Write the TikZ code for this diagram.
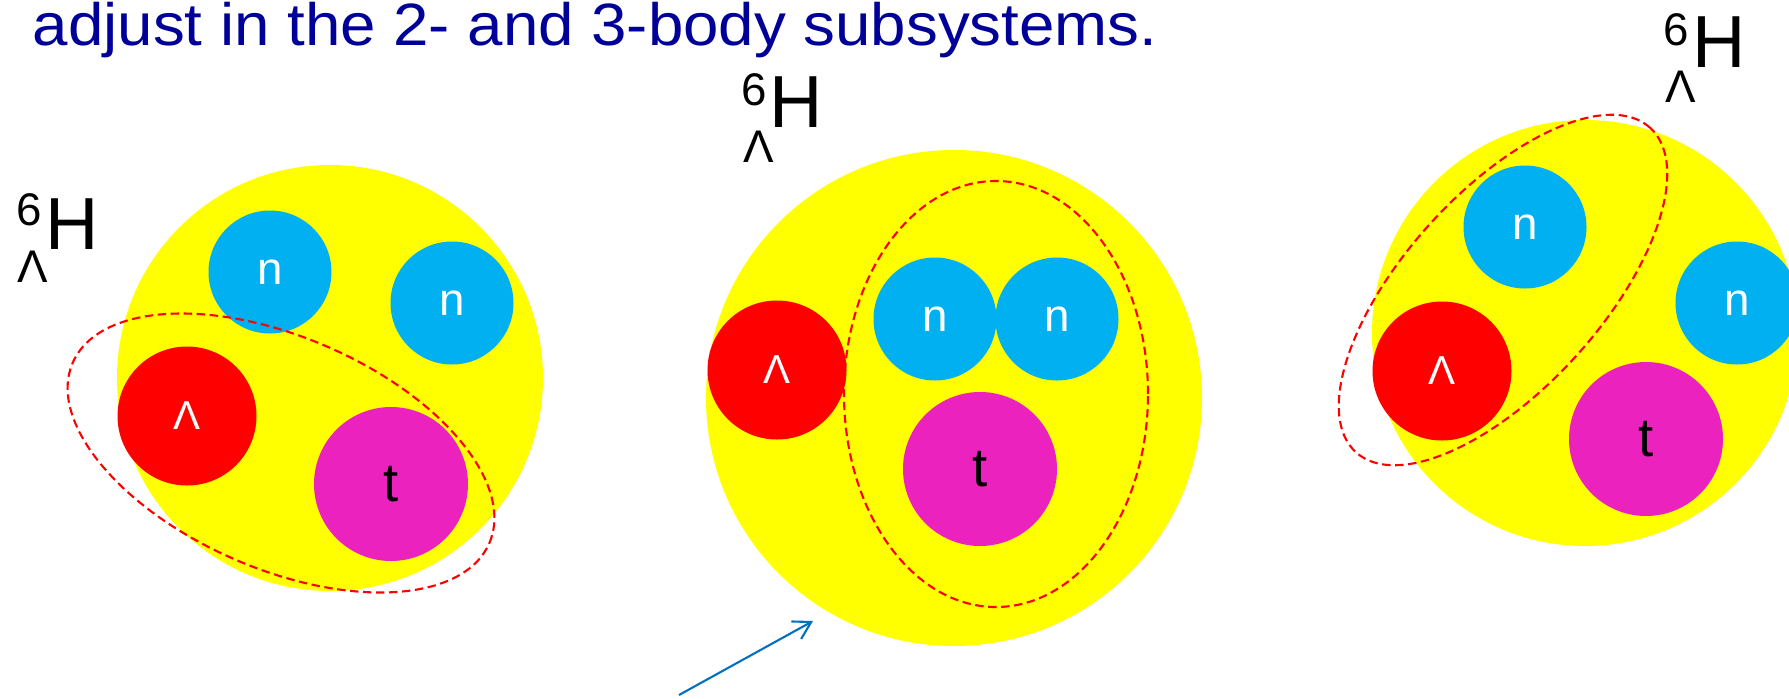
\documentclass[tikz,border=0pt]{standalone}
\usepackage{fontspec}
\setmainfont{Liberation Sans}
\usepackage{xcolor}
\usetikzlibrary{shapes.geometric,arrows.meta}
\definecolor{coreyellow}{RGB}{255,255,0}
\definecolor{neutronblue}{RGB}{0,176,240}
\definecolor{tritonpink}{RGB}{236,34,190}
\definecolor{titleblue}{RGB}{0,0,153}
\definecolor{arrowblue}{RGB}{0,112,192}

\begin{document}
\begin{tikzpicture}[
    core/.style={
        circle,
        fill=coreyellow,
        inner sep=0pt,
        minimum size=4.26cm
    },
    neutron/.style={
        circle,
        fill=neutronblue,
        inner sep=0pt,
        minimum size=1.23cm,
        text=white,
        font=\fontsize{13}{13}\selectfont
    },
    lambda/.style={
        circle,
        fill=red,
        inner sep=0pt,
        minimum size=1.39cm,
        text=white,
        font=\fontsize{11.5}{11.5}\selectfont
    },
    triton/.style={
        circle,
        fill=tritonpink,
        inner sep=0pt,
        minimum size=1.54cm,
        text=black,
        font=\fontsize{15.5}{15.5}\selectfont
    },
    cluster/.style={
        ellipse,
        draw=red,
        dash pattern=on 2.4pt off 1.3pt,
        line width=0.6pt,
        inner sep=0pt
    },
    symbol/.style={inner sep=0pt, anchor=base west, font=\fontsize{21}{21}\selectfont},
    index/.style={inner sep=0pt, anchor=base west, font=\fontsize{13}{13}\selectfont},
    pointer/.style={-{Straight Barb[length=1.7mm,width=2mm]}, draw=arrowblue, line width=0.6pt}
]

\useasboundingbox (0,0) rectangle (17.89,-6.98);

% heading
\node[anchor=base west, inner sep=0pt, text=titleblue,
      font=\fontsize{17}{17}\selectfont, xscale=1.065, transform shape]
      (headline) at (0.32,-0.45) {adjust in the 2- and 3-body subsystems.};

% left panel
\node[core] (core1) at (3.30,-3.78) {};
\node[neutron] (nL1) at (2.70,-2.72) {n};
\node[neutron] (nR1) at (4.52,-3.03) {n};
\node[lambda] (lam1) at (1.87,-4.16) {Λ};
\node[triton] (tri1) at (3.91,-4.84) {t};
\node[cluster, minimum width=4.54cm, minimum height=2.32cm, rotate=-23.4] (pair1) at (2.81,-4.53) {};
\node[symbol] (H1) at (0.45,-2.49) {H};
\node[index] (mass1) at (0.16,-2.25) {6};
\node[index] (sub1) at (0.17,-2.82) {Λ};

% middle panel
\node[core, minimum size=4.96cm] (core2) at (9.54,-3.98) {};
\node[lambda] (lam2) at (7.77,-3.70) {Λ};
\node[neutron] (nL2) at (9.35,-3.19) {n};
\node[neutron] (nR2) at (10.57,-3.19) {n};
\node[triton] (tri2) at (9.80,-4.69) {t};
\node[cluster, minimum width=3.04cm, minimum height=4.26cm] (trio2) at (9.96,-3.94) {};
\node[symbol] (H2) at (7.69,-1.27) {H};
\node[index] (mass2) at (7.41,-1.05) {6};
\node[index] (sub2) at (7.425,-1.62) {Λ};

\coordinate (tail) at (6.79,-6.95);
\coordinate (tip) at (8.13,-6.21);
\draw[pointer] (tail) -- (tip);

% right panel
\node[core] (core3) at (15.85,-3.33) {};
\node[neutron] (nL3) at (15.25,-2.27) {n};
\node[neutron] (nR3) at (17.37,-3.03) {n};
\node[lambda] (lam3) at (14.42,-3.71) {Λ};
\node[triton] (tri3) at (16.46,-4.39) {t};
\node[cluster, minimum width=4.38cm, minimum height=1.97cm, rotate=47.8] (pair3) at (15.03,-2.90) {};
\node[symbol] (H3) at (16.92,-0.67) {H};
\node[index] (mass3) at (16.63,-0.45) {6};
\node[index] (sub3) at (16.645,-1.02) {Λ};

\end{tikzpicture}
\end{document}
